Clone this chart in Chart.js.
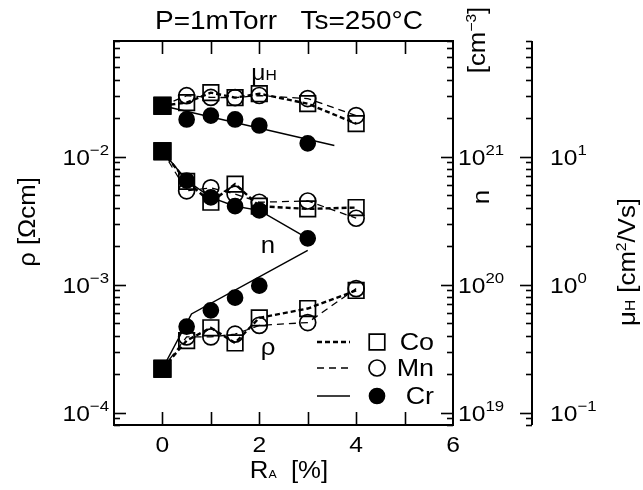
<!DOCTYPE html>
<html>
<head>
<meta charset="utf-8">
<script src="https://cdn.jsdelivr.net/npm/chart.js@4.4.0/dist/chart.umd.min.js"></script>
<style>
  html, body { margin: 0; padding: 0; background: #fff; }
  canvas { display: block; }
</style>
</head>
<body>
<canvas id="chart" width="643" height="490"></canvas>
<script>
// R_A [%]; 0 is the undoped film
const RA = [0, 0.5, 1, 1.5, 2, 3, 4];
const RA_CR = [0, 0.5, 1, 1.5, 2, 3];

// resistivity [Ohm cm]
const RHO_CO = [2.2e-4, 3.65e-4, 4.6e-4, 3.5e-4, 5.5e-4, 6.5e-4, 9.0e-4];
const RHO_MN = [2.2e-4, 3.9e-4, 3.9e-4, 4.1e-4, 4.8e-4, 5.05e-4, 9.3e-4];
const RHO_CR = [2.2e-4, 4.7e-4, 6.3e-4, 7.9e-4, 9.8e-4];
// guide line drawn through the Cr resistivity
const RHO_CR_GUIDE_X = [0, 0.6, 3];
const RHO_CR_GUIDE = [2.2e-4, 5.9e-4, 1.85e-3];

// carrier density [cm^-3]
const N_CO = [1.1e21, 6.4e20, 4.4e20, 6.1e20, 4.1e20, 3.9e20, 4.0e20];
const N_MN = [1.1e21, 5.4e20, 5.7e20, 5.1e20, 4.4e20, 4.5e20, 3.3e20];
const N_CR = [1.1e21, 6.5e20, 4.8e20, 4.1e20, 3.8e20, 2.3e20];

// Hall mobility [cm2/Vs]
const MU_CO = [25, 26.4, 31.6, 28.9, 31.0, 25.9, 18.1];
const MU_MN = [25, 29.9, 29.0, 28.9, 30.0, 28.4, 20.9];
const MU_CR = [25, 19.5, 20.9, 19.5, 17.5, 12.7];
const MU_CR_GUIDE_X = [0, 3.55];
const MU_CR_GUIDE = [25, 12.2];

// ticks
const X_TICKS = [0, 1, 2, 3, 4, 5];
const X_LABELS = [0, 2, 4, 6];
const RHO_EXP = [-4, -3, -2];
const N_EXP = [19, 20, 21];
const MU_EXP = [-1, 0, 1];

const FONT = '"Liberation Sans", Arial, Helvetica, sans-serif';
const SX = 1.12;

function pts(xs, ys) {
  return ys.map((y, i) => ({ x: xs[i], y: y }));
}

const LINE = {
  Co: { borderWidth: 2.4, borderDash: [5, 3] },
  Mn: { borderWidth: 1.3, borderDash: [7, 5] },
  Cr: { borderWidth: 1.5, borderDash: [] }
};
const MARK = {
  Co: { style: 'rect', r: 11, fill: 'rgba(0,0,0,0)' },
  Mn: { style: 'circle', r: 8, fill: 'rgba(0,0,0,0)' },
  Cr: { style: 'circle', r: 7.5, fill: '#000' }
};

function series(metal, xs, ys, axis, showLine) {
  const m = MARK[metal];
  return Object.assign({
    label: metal,
    yAxisID: axis,
    data: pts(xs, ys),
    showLine: showLine,
    borderColor: '#000',
    tension: 0,
    pointStyle: c => c.dataIndex === 0 ? 'rect' : m.style,
    pointRadius: c => c.dataIndex === 0 ? 11.5 : m.r,
    pointBackgroundColor: c => c.dataIndex === 0 ? '#000' : m.fill,
    pointBorderColor: '#000',
    pointBorderWidth: 1.7
  }, LINE[metal]);
}

function guide(xs, ys, axis) {
  return {
    yAxisID: axis,
    data: pts(xs, ys),
    showLine: true,
    borderColor: '#000',
    borderWidth: 1.5,
    pointRadius: 0
  };
}

// text helpers, every run is stretched a little horizontally
function textWidth(ctx, s, size) {
  ctx.font = size + 'px ' + FONT;
  return ctx.measureText(s).width * SX;
}

function runs(ctx, parts, x, y, align, rot) {
  const w = parts.reduce((s, p) => s + textWidth(ctx, p.t, p.size), 0);
  let cx = align === 'center' ? -w / 2 : align === 'right' ? -w : 0;
  ctx.save();
  ctx.translate(x, y);
  if (rot) ctx.rotate(rot);
  ctx.fillStyle = '#000';
  for (const p of parts) {
    const pw = textWidth(ctx, p.t, p.size);
    ctx.save();
    ctx.translate(cx, p.dy || 0);
    ctx.scale(SX, 1);
    ctx.font = p.size + 'px ' + FONT;
    ctx.textAlign = 'left';
    ctx.textBaseline = 'alphabetic';
    ctx.fillText(p.t, 0, 0);
    ctx.restore();
    cx += pw;
  }
  ctx.restore();
}

function powLabel(ctx, e, x, y, align) {
  const ex = e < 0 ? '\u2212' + (-e) : String(e);
  runs(ctx, [{ t: '10', size: 22 }, { t: ex, size: 15, dy: -10 }], x, y + 8, align);
}

function logTicks(ctx, scale, x0, dir, exps) {
  const lo = exps[0] - 1, hi = exps[exps.length - 1] + 1;
  for (let e = lo; e <= hi; e++) {
    for (let m = 1; m <= 9; m++) {
      const v = m * Math.pow(10, e);
      if (v < scale.min || v > scale.max) continue;
      const y = Math.round(scale.getPixelForValue(v)) + 0.5;
      const len = m === 1 ? 12 : 6;
      ctx.beginPath();
      ctx.moveTo(x0, y);
      ctx.lineTo(x0 + dir * len, y);
      ctx.stroke();
    }
  }
}

const framePlugin = {
  id: 'frame',
  afterDraw(chart) {
    const { ctx, chartArea: a, scales } = chart;
    const sx = scales.x, sy = scales.y, sn = scales.yN, sm = scales.yMu;
    const muX = a.right + 79;

    ctx.save();
    ctx.strokeStyle = '#000';
    ctx.lineWidth = 2;
    ctx.strokeRect(a.left, a.top, a.right - a.left, a.bottom - a.top);
    ctx.beginPath();
    ctx.moveTo(muX, a.top);
    ctx.lineTo(muX, a.bottom);
    ctx.stroke();

    ctx.lineWidth = 1.6;
    X_TICKS.forEach(v => {
      const x = Math.round(sx.getPixelForValue(v)) + 0.5;
      ctx.beginPath();
      ctx.moveTo(x, a.bottom);
      ctx.lineTo(x, a.bottom - 13);
      ctx.moveTo(x, a.top);
      ctx.lineTo(x, a.top + 13);
      ctx.stroke();
    });
    logTicks(ctx, sy, a.left, 1, RHO_EXP);
    logTicks(ctx, sn, a.right, -1, N_EXP);
    logTicks(ctx, sm, muX, -1, MU_EXP);

    X_LABELS.forEach(v => {
      runs(ctx, [{ t: String(v), size: 22 }], sx.getPixelForValue(v), a.bottom + 27, 'center');
    });
    RHO_EXP.forEach(e => powLabel(ctx, e, a.left - 5, sy.getPixelForValue(Math.pow(10, e)), 'right'));
    N_EXP.forEach(e => powLabel(ctx, e, a.right + 5, sn.getPixelForValue(Math.pow(10, e)), 'left'));
    MU_EXP.forEach(e => powLabel(ctx, e, muX + 18, sm.getPixelForValue(Math.pow(10, e)), 'left'));

    // titles
    runs(ctx, [{ t: 'P=1mTorr   Ts=250\u00b0C', size: 25 }], 289, 29, 'center');
    runs(ctx, [{ t: 'R', size: 23 }, { t: 'A', size: 11 }, { t: '  [%]', size: 23 }], 289, 478, 'center');
    runs(ctx, [{ t: '\u03c1 [\u03a9cm]', size: 23 }], 35, 222, 'center', -Math.PI / 2);
    runs(ctx, [{ t: 'n', size: 23 }], 489, 197, 'center', -Math.PI / 2);
    runs(ctx, [{ t: '[cm', size: 23 }, { t: '\u22123', size: 14, dy: -9 }, { t: ']', size: 23 }], 485, 40, 'center', -Math.PI / 2);
    runs(ctx, [{ t: '\u03bc', size: 23 }, { t: 'H', size: 14 }, { t: ' [cm', size: 23 }, { t: '2', size: 14, dy: -9 }, { t: '/Vs]', size: 23 }], 635, 262, 'center', -Math.PI / 2);

    // curve names inside the frame
    runs(ctx, [{ t: '\u03bc', size: 22 }, { t: 'H', size: 14 }], 264, 80, 'center');
    runs(ctx, [{ t: 'n', size: 23 }], 268, 253, 'center');
    runs(ctx, [{ t: '\u03c1', size: 23 }], 268, 355, 'center');

    // legend
    const rows = [['Co', 342], ['Mn', 368], ['Cr', 396]];
    rows.forEach(([metal, y]) => {
      const l = LINE[metal], m = MARK[metal];
      ctx.save();
      ctx.lineWidth = l.borderWidth;
      ctx.setLineDash(l.borderDash);
      ctx.beginPath();
      ctx.moveTo(317, y);
      ctx.lineTo(350, y);
      ctx.stroke();
      ctx.restore();
      ctx.lineWidth = 1.7;
      ctx.beginPath();
      if (m.style === 'rect') {
        const h = m.r * Math.SQRT1_2;
        ctx.rect(377 - h, y - h, 2 * h, 2 * h);
      } else {
        ctx.arc(377, y, m.r, 0, Math.PI * 2);
      }
      if (m.fill === '#000') { ctx.fillStyle = '#000'; ctx.fill(); }
      ctx.stroke();
      runs(ctx, [{ t: metal, size: 24 }], 434, y + 8, 'right');
    });
    ctx.restore();
  }
};

new Chart(document.getElementById('chart'), {
  type: 'scatter',
  data: {
    datasets: [
      series('Cr', RA.slice(0, RHO_CR.length), RHO_CR, 'y', false),
      guide(RHO_CR_GUIDE_X, RHO_CR_GUIDE, 'y'),
      series('Co', RA, RHO_CO, 'y', true),
      series('Mn', RA, RHO_MN, 'y', true),
      series('Cr', RA_CR, N_CR, 'yN', true),
      series('Co', RA, N_CO, 'yN', true),
      series('Mn', RA, N_MN, 'yN', true),
      series('Cr', RA_CR, MU_CR, 'yMu', false),
      guide(MU_CR_GUIDE_X, MU_CR_GUIDE, 'yMu'),
      series('Co', RA, MU_CO, 'yMu', true),
      series('Mn', RA, MU_MN, 'yMu', true)
    ]
  },
  options: {
    responsive: false,
    animation: false,
    devicePixelRatio: 1,
    layout: { padding: { left: 114, top: 41, right: 190, bottom: 65 } },
    plugins: { legend: { display: false }, tooltip: { enabled: false } },
    scales: {
      x: { type: 'linear', min: -1, max: 6, display: false },
      y: { type: 'logarithmic', min: 8e-5, max: 8e-2, display: false },
      yN: { type: 'logarithmic', min: 8e18, max: 8e21, display: false },
      yMu: { type: 'logarithmic', min: 0.08, max: 80, display: false }
    }
  },
  plugins: [framePlugin]
});
</script>
</body>
</html>
